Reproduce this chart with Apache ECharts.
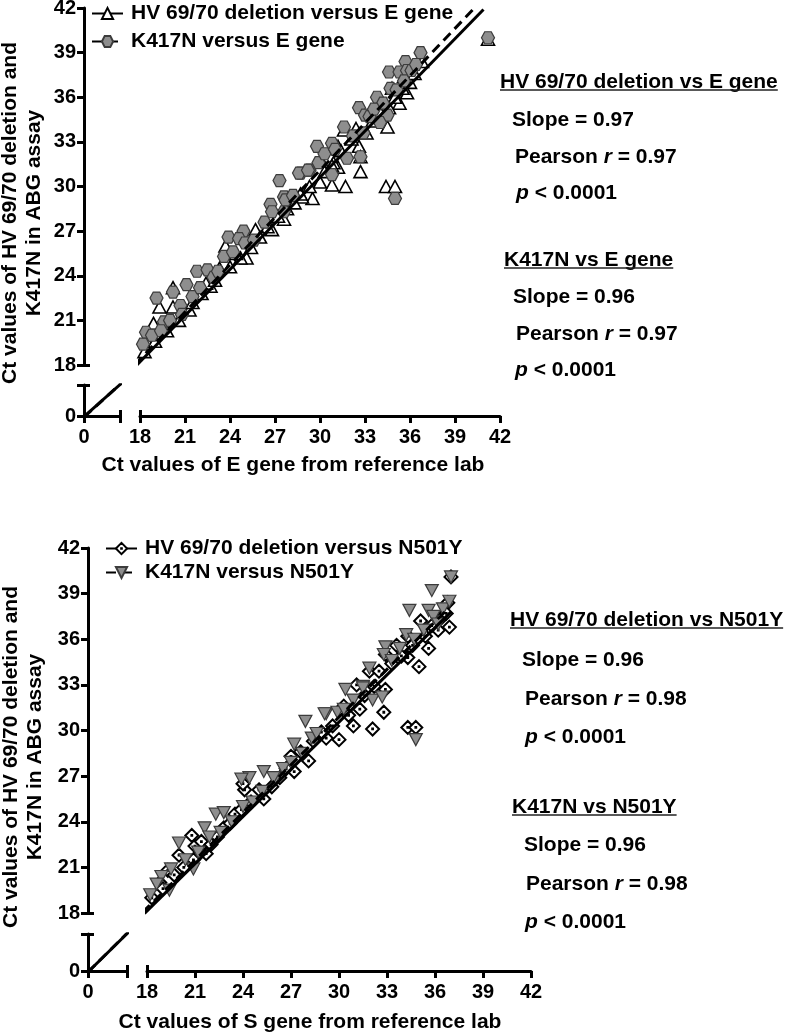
<!DOCTYPE html>
<html><head><meta charset="utf-8">
<script src="https://cdn.jsdelivr.net/npm/echarts@6/dist/echarts.min.js"></script>
<style>html,body{margin:0;padding:0;background:#fff}#c{width:793px;height:1036px}</style>
</head><body><div id="c"></div>
<script>
const FONT = '"Liberation Sans", Arial, Helvetica, sans-serif';

// ---------- Top panel: versus E gene ----------
const topXTitle = 'Ct values of E gene from reference lab';
const yTitleLines = ['Ct values of HV 69/70 deletion and', 'K417N in ABG assay'];
const topSeriesNames = ['HV 69/70 deletion versus E gene', 'K417N versus E gene'];
const hvVsE = [
  [36.8,38.4],[35.9,37.8],[35.8,36.3],[35.3,35.6],[33.8,35.4],[34.5,34.0],[33.1,33.6],[31.6,33.8],
  [32.6,32.7],[32.7,32.0],[32.7,31.0],[31.2,32.7],[31.2,31.3],[30.8,30.1],[31.7,30.0],[29.5,29.2],
  [30.0,30.3],[34.4,30.0],[35.0,30.0],[30.1,31.7],[41.2,39.9],[30.9,31.6],
  [28.8,29.3],[27.6,27.8],[26.8,27.1],[23.7,26.0],[25.7,27.1],[25.1,25.2],[24.7,25.2],[22.7,23.3],
  [23.3,24.5],[20.2,23.2],[19.3,21.9],[20.2,21.9],[21.3,21.7],[18.9,20.8],[18.4,19.7],[19.6,20.4],
  [18.3,18.9],[19.0,19.6],[19.8,20.3],[20.6,21.0],[21.5,22.2],[22.1,22.8],[22.4,23.5],[23.0,23.7],
  [24.0,24.6],[24.4,25.5],[25.4,25.9],[26.0,26.6],[26.5,27.3],[27.2,28.0],[27.8,28.5],[28.3,28.9],
  [28.7,29.5],[29.3,30.0],[30.3,31.0],[30.8,31.4],[31.4,32.4],[32.1,33.2],[32.4,33.9],[33.5,34.4],
  [34.0,35.0],[34.6,35.3],[35.0,36.0],[35.5,36.6],[36.0,37.0],[36.3,37.6],[35.6,37.4],[34.8,36.6]
];
const k417nVsE = [
  [36.7,39.0],[35.7,38.4],[34.6,37.7],[35.3,37.7],[35.8,37.8],[34.7,36.6],[33.8,36.0],[32.6,35.3],
  [33.0,34.8],[34.5,34.8],[34.0,34.3],[31.6,34.0],[29.8,32.7],[30.8,32.9],[31.8,31.9],[32.7,32.0],
  [29.3,31.1],[28.7,30.9],[30.8,30.8],[35.0,29.2],[41.2,40.0],
  [27.3,30.4],[28.6,30.9],[29.2,31.1],[26.7,28.8],[27.6,29.3],[24.9,27.0],[23.9,26.6],[24.6,26.5],
  [21.8,24.3],[22.5,24.4],[21.1,23.4],[19.1,22.5],[20.2,22.9],[18.4,20.2],[19.6,20.9],[20.7,22.0],
  [22.9,23.9],[27.6,28.3],
  [18.2,19.4],[18.8,20.0],[19.4,20.3],[20.0,21.0],[20.8,21.4],[21.5,22.6],[22.0,23.2],[23.2,24.3],
  [23.6,25.3],[24.2,25.6],[25.0,26.2],[25.6,26.4],[26.3,27.6],[26.8,28.3],[27.7,29.1],[28.2,29.4],
  [29.9,31.6],[30.3,32.2],[31.0,32.5],[32.2,33.4],[33.3,34.7],[34.2,35.6],[35.1,36.5],[35.6,37.1],
  [36.1,37.8],[36.4,38.2],[33.6,35.2],[32.9,33.6]
];
const hvFitE = [[0,-0.4],[40.9,41.9]];
const k417nFitE = [[0,-0.7],[40.2,41.9]];
const statsE = [
  {title:'HV 69/70 deletion vs E gene', slope:'0.97', r:'0.97', p:'0.0001'},
  {title:'K417N vs E gene', slope:'0.96', r:'0.97', p:'0.0001'}
];

// ---------- Bottom panel: versus N501Y ----------
const botXTitle = 'Ct values of S gene from reference lab';
const botSeriesNames = ['HV 69/70 deletion versus N501Y', 'K417N versus N501Y'];
const hvVsN501Y = [
  [37.0,40.1],[36.8,38.4],[36.9,36.8],[36.2,36.6],[35.6,35.4],[35.1,37.2],[34.3,36.2],[33.6,35.6],
  [34.3,34.8],[35.0,34.2],[32.9,35.0],[31.9,33.9],[31.1,33.0],[32.9,32.7],[32.8,31.2],[32.1,30.1],
  [30.9,30.3],[30.0,29.4],[29.2,29.5],[31.3,31.4],[34.3,30.2],[34.8,30.2],[30.3,31.6],
  [28.1,28.0],[27.2,27.3],[27.0,28.3],[25.3,25.5],[24.1,26.1],[24.0,26.5],[23.5,24.5],[21.7,21.9],
  [20.8,23.1],[20.0,21.8],[19.3,20.8],[18.8,20.0],[21.0,22.4],[22.4,23.0],
  [18.3,19.0],[19.0,19.6],[19.7,20.5],[20.3,21.0],[20.9,21.5],[21.4,22.7],[22.0,22.5],[22.8,23.6],
  [23.2,23.9],[23.9,24.8],[24.5,25.3],[25.0,26.1],[25.8,26.3],[26.3,26.9],[26.7,27.5],[27.6,28.6],
  [28.4,29.3],[28.9,29.9],[29.6,30.3],[30.6,31.0],[31.6,32.3],[32.2,32.9],[32.5,33.9],[33.3,34.4],
  [33.9,34.9],[34.6,35.6],[35.4,36.2],[35.8,36.9],[36.4,37.4],[36.7,37.7]
];
const k417nVsN501Y = [
  [35.8,39.2],[37.0,40.1],[34.4,37.9],[35.6,37.9],[34.2,36.3],[32.9,35.5],[32.8,35.0],[31.9,34.1],
  [30.4,32.7],[31.5,32.9],[32.1,32.0],[32.7,32.2],[29.2,31.1],[29.9,31.2],[34.8,29.4],
  [27.9,30.6],[29.1,31.1],[27.2,29.1],[28.3,29.5],[25.3,27.3],[24.4,26.9],[23.9,26.8],[22.3,24.5],
  [22.8,24.6],[21.6,23.6],[20.0,22.6],[18.9,20.4],[19.4,19.5],[20.9,20.9],[26.0,26.8],
  [18.2,19.2],[18.6,19.9],[19.5,20.9],[20.4,21.5],[21.2,22.0],[21.9,23.0],[22.6,23.3],[23.3,24.0],
  [24.0,25.0],[24.6,25.3],[25.2,26.0],[25.9,26.9],[26.5,27.5],[27.0,27.9],[27.7,28.5],[28.6,29.8],
  [30.3,31.4],[30.9,32.0],[31.5,32.8],[33.3,34.6],[33.8,35.4],[34.7,36.0],[35.3,36.6],[35.9,37.5],
  [36.5,38.0],[36.9,38.5],[36.2,37.0]
];
const hvFitN501Y = [[0,-0.5],[37.0,37.8]];
const k417nFitN501Y = [[0,-0.5],[36.9,38.1]];
const statsN501Y = [
  {title:'HV 69/70 deletion vs N501Y', slope:'0.96', r:'0.98', p:'0.0001'},
  {title:'K417N vs N501Y', slope:'0.96', r:'0.98', p:'0.0001'}
];

// ---------- axis ranges ----------
const mainMin = 18, mainMax = 42, mainStep = 3;
const lowMin = 0, lowMax = 18;

// ---------- symbols ----------
const HEX = 'path://M1,0 L0.5,0.866 L-0.5,0.866 L-1,0 L-0.5,-0.866 L0.5,-0.866 Z';
const DIAMOND_DOT = 'path://M0,-1 L1,0 L0,1 L-1,0 Z M-0.06,-0.06 L0.06,-0.06 L0.06,0.06 L-0.06,0.06 Z';
const TRI_DOWN = 'path://M-1,-0.9 L1,-0.9 L0,0.9 Z';

const labelStyle = {color:'#000', fontSize:20, fontWeight:'bold', fontFamily:FONT};
const lineSt = {color:'#000', width:3};

function mainX(grid, offset){
  return [
    {gridIndex:grid, type:'value', position:'bottom', min:mainMin, max:mainMax, interval:mainStep, offset:offset,
     axisLine:{lineStyle:lineSt}, axisTick:{length:7, lineStyle:lineSt},
     axisLabel:Object.assign({margin:11}, labelStyle), splitLine:{show:false}},
    {gridIndex:grid, type:'value', position:'bottom', min:mainMin, max:mainMax, interval:mainStep, offset:offset,
     axisLine:{show:false}, axisTick:{inside:true, length:6, lineStyle:lineSt, customValues:[mainMin]},
     axisLabel:{show:false}, splitLine:{show:false}}
  ];
}
function mainY(grid, offset){
  return [
    {gridIndex:grid, type:'value', position:'left', min:mainMin, max:mainMax, interval:mainStep, offset:offset,
     axisLine:{lineStyle:lineSt}, axisTick:{length:7, lineStyle:lineSt},
     axisLabel:Object.assign({margin:8}, labelStyle), splitLine:{show:false}},
    {gridIndex:grid, type:'value', position:'left', min:mainMin, max:mainMax, interval:mainStep, offset:offset,
     axisLine:{show:false}, axisTick:{inside:true, length:6, lineStyle:lineSt, customValues:[mainMin]},
     axisLabel:{show:false}, splitLine:{show:false}}
  ];
}
function lowX(grid){
  return [
    {gridIndex:grid, type:'value', position:'bottom', min:lowMin, max:lowMax,
     axisLine:{lineStyle:lineSt}, axisTick:{length:7, lineStyle:lineSt, customValues:[lowMin, lowMax]},
     axisLabel:Object.assign({margin:11, customValues:[lowMin]}, labelStyle), splitLine:{show:false}},
    {gridIndex:grid, type:'value', position:'bottom', min:lowMin, max:lowMax,
     axisLine:{show:false}, axisTick:{inside:true, length:6, lineStyle:lineSt, customValues:[lowMax]},
     axisLabel:{show:false}, splitLine:{show:false}}
  ];
}
function lowY(grid){
  return [
    {gridIndex:grid, type:'value', position:'left', min:lowMin, max:lowMax,
     axisLine:{lineStyle:lineSt}, axisTick:{length:7, lineStyle:lineSt, customValues:[lowMin, lowMax]},
     axisLabel:Object.assign({margin:8, customValues:[lowMin]}, labelStyle), splitLine:{show:false}},
    {gridIndex:grid, type:'value', position:'left', min:lowMin, max:lowMax,
     axisLine:{show:false}, axisTick:{inside:true, length:6, lineStyle:lineSt, customValues:[lowMax]},
     axisLabel:{show:false}, splitLine:{show:false}}
  ];
}

const grids = [
  {left:140, top:8, width:360, height:357},
  {left:84, top:385, width:36, height:31},
  {left:147, top:548, width:384, height:365},
  {left:88, top:934, width:39, height:37}
].map(g => Object.assign({outerBoundsMode:'none', containLabel:false}, g));

const xAxes = [].concat(mainX(0,51), lowX(1), mainX(2,58), lowX(3));
const yAxes = [].concat(mainY(0,56), lowY(1), mainY(2,59), lowY(3));

function scatter(name, data, ax, symbol, size, fill, border, bw){
  return {type:'scatter', name:name, data:data, xAxisIndex:ax, yAxisIndex:ax, symbol:symbol, symbolSize:size,
    itemStyle:{color:fill, borderColor:border, borderWidth:bw, opacity:1}, z:2, silent:true};
}
function fit(name, data, ax, dashed, symbol, symSize, fill, border, bw){
  return {type:'line', name:name, data:data, xAxisIndex:ax, yAxisIndex:ax, showSymbol:false, clip:true,
    symbol:symbol, symbolSize:symSize, itemStyle:{color:fill, borderColor:border, borderWidth:bw},
    lineStyle:{color:'#000', width:3, type: dashed ? [10,6] : 'solid'}, z:3, silent:true};
}

const series = [
  scatter('hvE', hvVsE, 0, 'triangle', [13,12], '#fff', '#000', 1.6),
  scatter('kE', k417nVsE, 0, HEX, [13,12], '#8e8e8e', '#3c3c3c', 1.2),
  fit(topSeriesNames[0], hvFitE, 0, false, 'triangle', 12, '#fff', '#000', 1.5),
  fit(topSeriesNames[1], k417nFitE, 0, true, HEX, 12, '#8e8e8e', '#3c3c3c', 1.2),
  fit(topSeriesNames[0], hvFitE, 2, false, 'triangle', 12, '#fff', '#000', 1.5),
  fit(topSeriesNames[1], k417nFitE, 2, true, HEX, 12, '#8e8e8e', '#3c3c3c', 1.2),
  scatter('hvN', hvVsN501Y, 4, DIAMOND_DOT, [13,13], '#fff', '#000', 2),
  scatter('kN', k417nVsN501Y, 4, TRI_DOWN, [13,12], '#8e8e8e', '#3c3c3c', 1.2),
  fit(botSeriesNames[0], hvFitN501Y, 4, false, DIAMOND_DOT, 12, '#fff', '#000', 2),
  fit(botSeriesNames[1], k417nFitN501Y, 4, true, TRI_DOWN, 12, '#8e8e8e', '#3c3c3c', 1.2),
  fit(botSeriesNames[0], hvFitN501Y, 6, false, DIAMOND_DOT, 12, '#fff', '#000', 2),
  fit(botSeriesNames[1], k417nFitN501Y, 6, true, TRI_DOWN, 12, '#8e8e8e', '#3c3c3c', 1.2)
];

const legendText = {color:'#000', fontSize:21, fontWeight:'bold', fontFamily:FONT, padding:[0,0,0,3]};
const legends = [
  {data:topSeriesNames, orient:'vertical', left:86, top:-2, itemWidth:31, itemHeight:14, itemGap:7,
   textStyle:legendText, selectedMode:false},
  {data:botSeriesNames, orient:'vertical', left:100, top:533, itemWidth:31, itemHeight:14, itemGap:3,
   textStyle:legendText, selectedMode:false}
];

// ---------- text graphics ----------
const measureCtx = document.createElement('canvas').getContext('2d');
function textW(str, size){ measureCtx.font = 'bold ' + size + 'px ' + FONT; return measureCtx.measureText(str).width; }
const TS = 21;
function statBlock(st, pos){
  const els = [];
  const baseTxt = {fill:'#000', fontSize:TS, fontWeight:'bold', fontFamily:FONT, textVerticalAlign:'middle', textAlign:'left'};
  const rich = {i:{fontSize:TS, fontWeight:'bold', fontStyle:'italic', fontFamily:FONT, fill:'#000'}};
  els.push({type:'text', x:pos.tx, y:pos.ty, style:Object.assign({text:st.title}, baseTxt)});
  els.push({type:'line', shape:{x1:pos.tx, y1:pos.ty+8, x2:pos.tx+textW(st.title, TS), y2:pos.ty+8}, style:{stroke:'#222', lineWidth:1.5}});
  els.push({type:'text', x:pos.sx, y:pos.sy, style:Object.assign({text:'Slope = ' + st.slope}, baseTxt)});
  els.push({type:'text', x:pos.rx, y:pos.ry, style:Object.assign({text:'Pearson {i|r} = ' + st.r, rich:rich}, baseTxt)});
  els.push({type:'text', x:pos.px, y:pos.py, style:Object.assign({text:'{i|p} < ' + st.p, rich:rich}, baseTxt)});
  return els;
}
const titleStyle = {fill:'#000', fontSize:21, fontWeight:'bold', fontFamily:FONT, textAlign:'center', textVerticalAlign:'middle', lineHeight:24};
const graphics = [].concat(
  [{type:'text', x:22, y:213, rotation:Math.PI/2, style:Object.assign({text:yTitleLines.join('\n')}, titleStyle)},
   {type:'text', x:293, y:465, style:Object.assign({text:topXTitle}, titleStyle)},
   {type:'text', x:23, y:757, rotation:Math.PI/2, style:Object.assign({text:yTitleLines.join('\n')}, titleStyle)},
   {type:'text', x:310, y:1022, style:Object.assign({text:botXTitle}, titleStyle)}],
  statBlock(statsE[0], {tx:500, ty:82, sx:512, sy:120, rx:515, ry:157, px:516, py:193}),
  statBlock(statsE[1], {tx:504, ty:260, sx:513, sy:297, rx:516, ry:334, px:515, py:370}),
  statBlock(statsN501Y[0], {tx:510, ty:620, sx:522, sy:660, rx:525, ry:699, px:525, py:737}),
  statBlock(statsN501Y[1], {tx:512, ty:807, sx:524, sy:845, rx:526, ry:884, px:525, py:922})
);

const chart = echarts.init(document.getElementById('c'), null, {renderer:'canvas'});
chart.setOption({
  backgroundColor:'#fff',
  animation:false,
  grid:grids,
  xAxis:xAxes,
  yAxis:yAxes,
  legend:legends,
  series:series,
  graphic:graphics
});
</script>
</body></html>
